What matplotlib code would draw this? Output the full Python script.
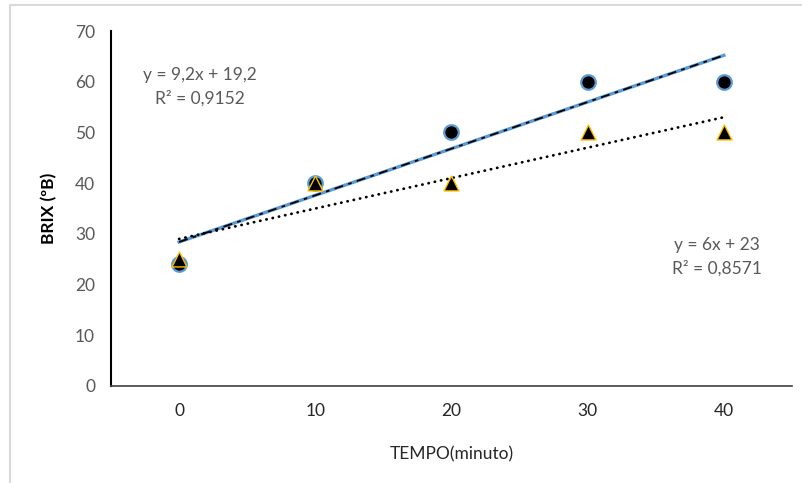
import numpy as np
import matplotlib.pyplot as plt
from matplotlib.patches import Rectangle

plt.rcParams['font.family'] = ['Lato', 'DejaVu Sans']

# Data
tempo = ['0', '10', '20', '30', '40']
brix_a = [24, 40, 50, 60, 60]   # circles
brix_b = [25, 40, 40, 50, 50]   # triangles

eq_a = 'y = 9,2x + 19,2\nR² = 0,9152'
eq_b = 'y = 6x + 23\nR² = 0,8571'

idx = np.arange(1, len(tempo) + 1)  # Excel uses 1..n for category trendlines
pos = idx - 1

# linear trendlines like Excel
ka, ba = np.polyfit(idx, brix_a, 1)
kb, bb = np.polyfit(idx, brix_b, 1)

fig = plt.figure(figsize=(8.03, 4.83), dpi=100)
fig.patches.append(Rectangle((10 / 803, -0.1), 1.2, 1 - 5 / 483 + 0.1,
                             transform=fig.transFigure, fill=False,
                             edgecolor='#d9d9d9', linewidth=1.5))
ax = fig.add_axes([111 / 803, 1 - 386 / 483, 681 / 803, 355 / 483])

# trendline for series A: blue line with black dash-dot overlay
ax.plot(pos, ka * idx + ba, color='#5b9bd5', lw=2.4, zorder=2)
ax.plot(pos, ka * idx + ba, color='black', lw=1.3, zorder=3,
        linestyle=(0, (5, 3, 2, 3)))
# trendline for series B: black round dots
ax.plot(pos, kb * idx + bb, color='black', lw=2, zorder=2,
        linestyle=(0, (0.1, 2.2)), dash_capstyle='round')

ax.scatter(pos, brix_a, s=110, marker='o', facecolor='black',
           edgecolor='#5b9bd5', linewidth=1.6, zorder=4)
ax.scatter(pos, brix_b, s=115, marker='^', facecolor='black',
           edgecolor='#ffc000', linewidth=1.0, zorder=5)

ax.set_xlim(-0.5, 4.5)
ax.set_ylim(0, 70)
ax.set_yticks(range(0, 71, 10))
ax.set_xticks(pos)
ax.set_xticklabels(tempo)
for s in ['top', 'right']:
    ax.spines[s].set_visible(False)
ax.spines['left'].set_color('black')
ax.spines['left'].set_linewidth(1.5)
ax.spines['bottom'].set_color('#404040')
ax.spines['bottom'].set_linewidth(1.2)
ax.tick_params(axis='both', length=0, labelsize=12.5)
ax.tick_params(axis='y', colors='#595959', pad=11.5)
ax.tick_params(axis='x', colors='#262626', pad=12)

ax.set_xlabel('TEMPO(minuto)', fontsize=12.5, color='#262626', labelpad=20)
ax.set_ylabel('BRIX (ºB)', fontsize=12.5, fontweight='bold', color='black',
              labelpad=13)

ax.text(0.15, 59.0, eq_a, ha='center', va='center', fontsize=12.5,
        color='#595959', linespacing=1.55)
ax.text(3.95, 25.4, eq_b, ha='center', va='center', fontsize=12.5,
        color='#595959', linespacing=1.55)

fig.savefig('out.png', dpi=100)
